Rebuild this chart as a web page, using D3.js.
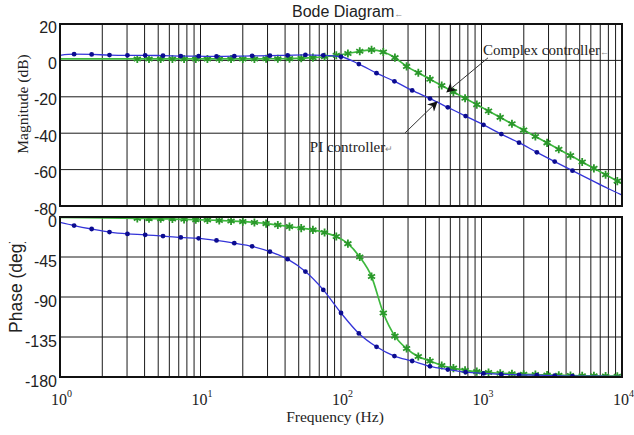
<!DOCTYPE html>
<html>
<head>
<meta charset="utf-8">
<script src="https://cdn.jsdelivr.net/npm/d3@7"></script>
<style>
    body { margin: 0; background: #fff; }
    svg { display: block; }
</style>
</head>
<body>
<svg id="chart" width="634" height="435"></svg>
<script>
// values
const freqTicks = [1, 10, 100, 1000, 10000];
const magTicks = [20, 0, -20, -40, -60, -80];
const phaseTicks = [0, -45, -90, -135, -180];

// PI controller (blue, dots)
const piFreq = [1, 1.26, 1.68, 2.25, 3.02, 4.04, 5.41, 7.24, 9.7, 13, 17.4, 23.3, 31.2, 41.7, 55.8, 74.8,
    100, 134, 179, 240, 321, 430, 576, 771, 1033, 1383, 1850, 2478, 3318, 4440, 5945, 7960, 10000];
const piMag = [2.8, 3.4, 3.3, 2.9, 2.8, 2.8, 2.6, 2.4, 2.3, 2.2, 2.3, 2.5, 2.6, 2.8, 3.0, 2.8,
    2.0, -2.0, -7.0, -11.5, -16.5, -21.0, -25.8, -30.6, -35.4, -40.5, -45.2, -50.5, -55.6, -60.6, -65.5, -70.4, -74.0];
const piPhase = [-6, -9.6, -13.5, -17, -19, -20, -21.5, -23, -24, -26.4, -29.4, -33, -39, -47.4, -61.4, -82,
    -108, -131, -146, -156.5, -162, -168, -171.6, -174.6, -176, -177, -177.5, -178, -178.5, -179, -179, -179.2, -179.3];

// Complex controller (green, stars)
const cxFreq = [1, 3.55, 4.3, 5.21, 6.31, 7.64, 9.26, 11.2, 13.6, 16.5, 20, 24.2, 29.3, 35.5, 43, 52.1, 63.1, 76.4,
    92.6, 112, 136, 165, 200, 242, 293, 355, 430, 521, 631, 764, 926, 1122, 1359, 1647, 1995, 2418, 2929,
    3548, 4299, 5208, 6310, 7643, 9261, 10000];
const cxMag = [0.8, 0.8, 0.8, 0.8, 0.8, 0.8, 0.8, 0.8, 0.8, 0.8, 0.8, 0.8, 0.9, 0.9, 1.0, 1.2, 1.5, 2.0,
    2.8, 3.8, 5.0, 5.8, 4.6, 1.5, -3.3, -6.8, -10.3, -13.8, -17.3, -20.8, -24.3, -27.8, -31.3, -34.8, -38.3, -41.8, -45.3,
    -48.8, -52.3, -55.8, -59.3, -62.8, -66.3, -67.7];
const cxPhase = [-0.5, -1.5, -1.8, -2, -2.3, -2.6, -3, -3.4, -3.9, -4.5, -5.2, -6.2, -7.4, -9, -10.8, -12.5, -14.5, -17.5,
    -22, -30, -45, -67, -108, -134, -148, -157, -162, -167, -170, -172.5, -174, -175, -175.8, -176.4, -176.9, -177.3, -177.7,
    -178, -178.3, -178.6, -178.8, -179, -179.1, -179.2];

const svg = d3.select("#chart");

const left = 60, right = 622;
const magTop = 24, magBottom = 206;
const phTop = 217, phBottom = 377;

const x = d3.scaleLog().domain([1, 10000]).range([left, right]);
const yMag = d3.scaleLinear().domain([-80, 20]).range([magBottom, magTop]);
const yPh = d3.scaleLinear().domain([-180, 0]).range([phBottom, phTop]);

const panels = [
    {id: "mag", y: yMag, top: magTop, bottom: magBottom, ticks: magTicks, labelShift: 3},
    {id: "ph", y: yPh, top: phTop, bottom: phBottom, ticks: phaseTicks, labelShift: 4}
];

const defs = svg.append("defs");
panels.forEach(p => {
    defs.append("clipPath").attr("id", "clip-" + p.id)
        .append("rect")
        .attr("x", left).attr("y", p.top)
        .attr("width", right - left).attr("height", p.bottom - p.top);
});

defs.append("marker")
    .attr("id", "arrow")
    .attr("viewBox", "0 0 10 10")
    .attr("refX", 9).attr("refY", 5)
    .attr("markerWidth", 12).attr("markerHeight", 10)
    .attr("markerUnits", "userSpaceOnUse")
    .attr("orient", "auto")
    .append("path")
    .attr("d", "M0,0 L10,5 L0,10 L3,5 Z")
    .attr("fill", "#111");

// the reference cuts the phase label off at the top
defs.append("clipPath").attr("id", "clip-phlabel")
    .append("rect").attr("x", 0).attr("y", 242).attr("width", 40).attr("height", 120);

// grid
panels.forEach(p => {
    const g = svg.append("g").attr("class", "grid-" + p.id);

    g.selectAll("line.v")
        .data(x.ticks())
        .enter().append("line")
        .attr("class", "v")
        .attr("x1", d => x(d)).attr("x2", d => x(d))
        .attr("y1", p.top).attr("y2", p.bottom)
        .attr("stroke", "#1a1a1a")
        .attr("stroke-width", 1);

    g.selectAll("line.h")
        .data(p.ticks)
        .enter().append("line")
        .attr("class", "h")
        .attr("x1", left).attr("x2", right)
        .attr("y1", d => p.y(d)).attr("y2", d => p.y(d))
        .attr("stroke", "#1a1a1a")
        .attr("stroke-width", 1);
});

// series
function series(freq, vals) {
    return freq.map((f, i) => ({f: f, v: vals[i]}));
}

const piColor = "#3434d8", piDot = "#0c0c90";
const cxColor = "#3db83d", cxStar = "#2a982a";

function drawSeries(panel, data, color, kind, markFrom, markTo) {
    const g = svg.append("g").attr("clip-path", "url(#clip-" + panel.id + ")");
    const line = d3.line()
        .x(d => x(d.f))
        .y(d => panel.y(d.v))
        .curve(d3.curveMonotoneX);

    g.append("path")
        .datum(data)
        .attr("d", line)
        .attr("fill", "none")
        .attr("stroke", color)
        .attr("stroke-width", kind === "dot" ? 1.3 : 1.7);

    const marks = data.filter(d => d.f >= markFrom && d.f <= markTo);
    if (kind === "dot") {
        g.selectAll("circle")
            .data(marks)
            .enter().append("circle")
            .attr("cx", d => x(d.f))
            .attr("cy", d => panel.y(d.v))
            .attr("r", 2.4)
            .attr("fill", piDot);
    } else {
        const star = d3.symbol().type(d3.symbolAsterisk).size(46);
        g.selectAll("path.star")
            .data(marks)
            .enter().append("path")
            .attr("class", "star")
            .attr("transform", d => "translate(" + x(d.f) + "," + panel.y(d.v) + ")")
            .attr("d", star)
            .attr("fill", "none")
            .attr("stroke", cxStar)
            .attr("stroke-width", 1.8);
    }
}

drawSeries(panels[0], series(cxFreq, cxMag), cxColor, "star", 3, 9500);
drawSeries(panels[0], series(piFreq, piMag), piColor, "dot", 1.2, 5000);
drawSeries(panels[1], series(cxFreq, cxPhase), cxColor, "star", 3, 9500);
drawSeries(panels[1], series(piFreq, piPhase), piColor, "dot", 1.2, 5000);

// frames
panels.forEach(p => {
    svg.append("rect")
        .attr("x", left).attr("y", p.top)
        .attr("width", right - left).attr("height", p.bottom - p.top)
        .attr("fill", "none")
        .attr("stroke", "#111")
        .attr("stroke-width", 2);
});

// tick labels
panels.forEach(p => {
    svg.append("g").selectAll("text")
        .data(p.ticks)
        .enter().append("text")
        .attr("x", left - 3)
        .attr("y", d => p.y(d) + p.labelShift)
        .attr("dominant-baseline", "central")
        .attr("text-anchor", "end")
        .attr("font-family", "Liberation Sans, Arial, sans-serif")
        .attr("font-size", 16)
        .attr("fill", "#222")
        .text(d => d);
});

const xl = svg.append("g").selectAll("text")
    .data(freqTicks)
    .enter().append("text")
    .attr("x", d => x(d) - 9)
    .attr("y", 405)
    .attr("font-family", "Liberation Serif, Times New Roman, serif")
    .attr("font-size", 16)
    .attr("fill", "#222");
xl.append("tspan").text("10");
xl.append("tspan")
    .attr("dy", -8)
    .attr("font-size", 10)
    .text(d => Math.round(Math.log10(d)));

// titles
const title = svg.append("text")
    .attr("x", 292).attr("y", 17)
    .attr("font-family", "Liberation Sans, Arial, sans-serif")
    .attr("font-size", 16)
    .attr("fill", "#222");
title.append("tspan").text("Bode Diagram");
title.append("tspan").attr("font-size", 9).attr("fill", "#888").text("←");

svg.append("text")
    .attr("transform", "translate(28,104) rotate(-90)")
    .attr("text-anchor", "middle")
    .attr("font-family", "Liberation Serif, Times New Roman, serif")
    .attr("font-size", 15.5)
    .attr("fill", "#222")
    .text("Magnitude (dB)");

svg.append("g")
    .attr("clip-path", "url(#clip-phlabel)")
    .append("text")
    .attr("transform", "translate(22,333) rotate(-90)")
    .attr("text-anchor", "start")
    .attr("font-family", "Liberation Sans, Arial, sans-serif")
    .attr("font-size", 17.5)
    .attr("fill", "#222")
    .text("Phase (deg)");

svg.append("text")
    .attr("x", 335).attr("y", 422)
    .attr("text-anchor", "middle")
    .attr("font-family", "Liberation Serif, Times New Roman, serif")
    .attr("font-size", 15.5)
    .attr("fill", "#222")
    .text("Frequency (Hz)");

// annotations, anchored in data coordinates
const noteLabels = ["Complex controller", "PI controller"];
const noteMarks = ["←", "↵"];
const noteText = [[1025, 3], [60, -50.3]];
const noteTail = [[1112, 1.4], [286, -39.8]];
const noteTip = [[568, -17.3], [482, -22.8]];

noteLabels.forEach((label, i) => {
    svg.append("line")
        .attr("x1", x(noteTail[i][0])).attr("y1", yMag(noteTail[i][1]))
        .attr("x2", x(noteTip[i][0])).attr("y2", yMag(noteTip[i][1]))
        .attr("stroke", "#333")
        .attr("stroke-width", 1)
        .attr("marker-end", "url(#arrow)");

    const t = svg.append("text")
        .attr("x", x(noteText[i][0])).attr("y", yMag(noteText[i][1]))
        .attr("font-family", "Liberation Serif, Times New Roman, serif")
        .attr("font-size", 15)
        .attr("fill", "#222");
    t.append("tspan").text(label);
    t.append("tspan").attr("font-size", 9).attr("fill", "#888").text(noteMarks[i]);
});
</script>
</body>
</html>
